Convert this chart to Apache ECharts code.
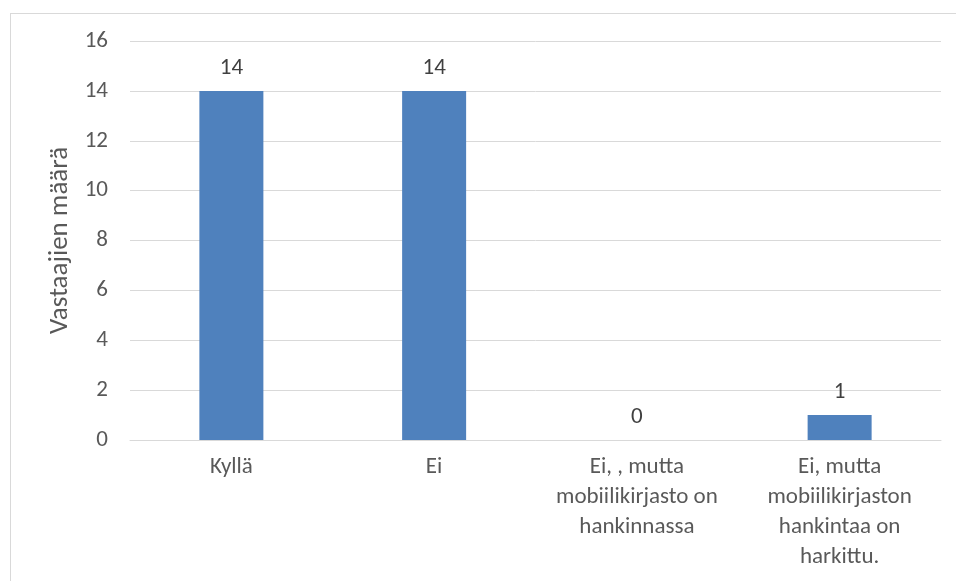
<!DOCTYPE html>
<html>
<head>
<meta charset="utf-8">
<script src="https://cdn.jsdelivr.net/npm/echarts@6/dist/echarts.min.js"></script>
<style>
  html, body { margin: 0; padding: 0; background: #fff; }
  #frame { position: absolute; left: 10px; top: 13px; width: 960px; height: 600px;
           border: 1px solid #d9d9d9; box-sizing: border-box; }
  #chart { position: absolute; left: 0; top: 0; width: 956px; height: 581px; }
</style>
</head>
<body>
<div id="frame"></div>
<div id="chart"></div>
<script>
// Survey answers and respondent counts
const categories = [
  'Kyllä',
  'Ei',
  'Ei, , mutta\nmobiilikirjasto on\nhankinnassa',
  'Ei, mutta\nmobiilikirjaston\nhankintaa on\nharkittu.'
];
const counts = [14, 14, 0, 1];
const yAxisTitle = 'Vastaajien määrä';

const textColor = '#595959';
const fontFamily = 'Carlito, Lato, "Open Sans", sans-serif';

const chart = echarts.init(document.getElementById('chart'), null, { renderer: 'canvas' });
chart.setOption({
  animation: false,
  backgroundColor: 'transparent',
  grid: { left: 130, right: 15, top: 41, bottom: 141, containLabel: false },
  xAxis: {
    type: 'category',
    data: categories,
    axisLine: { show: true, lineStyle: { color: '#d9d9d9', width: 1 } },
    axisTick: { show: false },
    axisLabel: {
      color: textColor, fontSize: 23, fontFamily: fontFamily,
      lineHeight: 30, margin: 12, interval: 0, align: 'center'
    }
  },
  yAxis: {
    type: 'value',
    min: 0, max: 16, interval: 2,
    name: yAxisTitle,
    nameLocation: 'middle',
    nameGap: 50,
    nameRotate: 90,
    nameTextStyle: { color: textColor, fontSize: 27, fontFamily: fontFamily },
    axisLine: { show: false },
    axisTick: { show: false },
    splitLine: { lineStyle: { color: '#d9d9d9', width: 1 } },
    axisLabel: { color: textColor, fontSize: 23, fontFamily: fontFamily, margin: 22 }
  },
  series: [{
    type: 'bar',
    data: counts,
    barWidth: 64,
    itemStyle: { color: '#4F81BD' },
    label: {
      show: true, position: 'top', distance: 11,
      color: '#404040', fontSize: 23, fontFamily: fontFamily
    }
  }]
});
</script>
</body>
</html>
